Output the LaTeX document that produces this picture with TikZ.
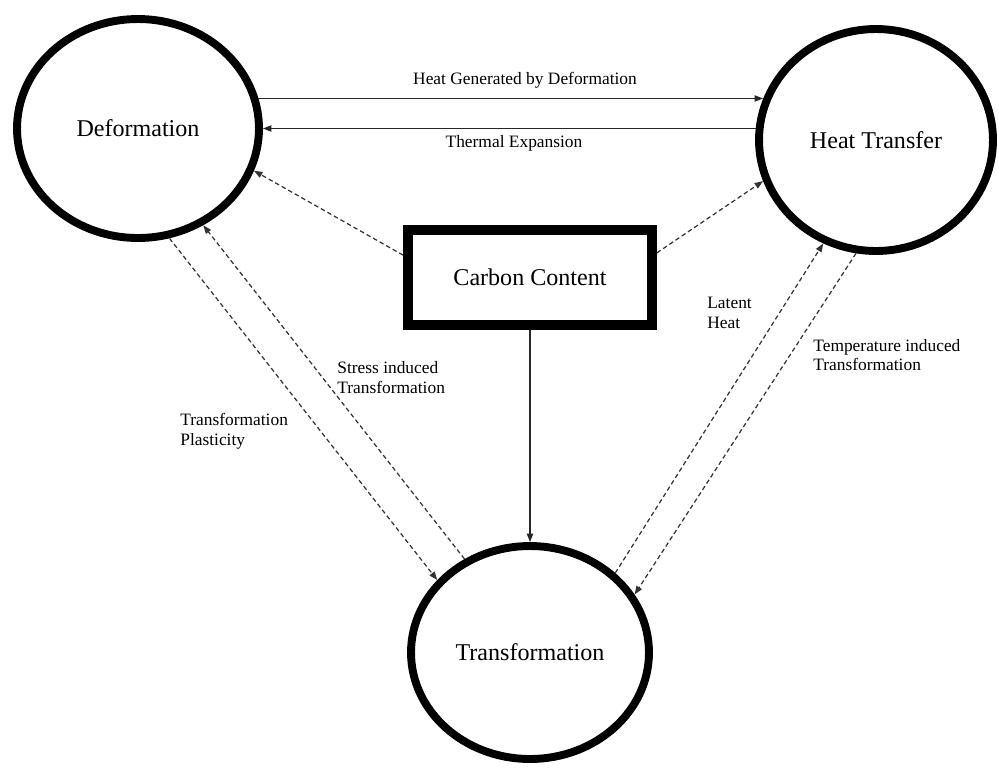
\documentclass[tikz,border=0pt]{standalone}
\usepackage{fontspec}
\setmainfont{Liberation Serif}
\usetikzlibrary{shapes.geometric, arrows.meta}
\tikzset{
  >={Triangle[length=1.7mm, width=1.25mm]},
  field/.style={
    ellipse, draw, line width=4.5pt, inner sep=0pt,
    font=\fontsize{13.7}{16}\selectfont
  },
  factor/.style={
    rectangle, draw, line width=5.6pt, inner sep=0pt,
    minimum width=4.88cm, minimum height=1.9cm,
    font=\fontsize{13.7}{16}\selectfont
  },
  couple/.style={->, line width=0.8pt, black!85},
  weak/.style={->, line width=0.7pt, black!80, dash pattern=on 0.9mm off 0.6mm},
  linklabel/.style={font=\fontsize{9.9}{11.3}\selectfont, inner sep=0pt, align=left}
}

\begin{document}
\begin{tikzpicture}[x=0.02cm, y=-0.02cm]

% frame of the page (pixel grid, y downwards)
\useasboundingbox (0,0) rectangle (998,769);

% the three coupled fields and the carbon content
\node[field, minimum width=4.84cm, minimum height=4.38cm] (def) at (138,128.5) {Deformation};
\node[field, minimum width=4.68cm, minimum height=4.44cm] (ht)  at (876,140)   {Heat Transfer};
\node[field, minimum width=4.76cm, minimum height=4.26cm] (tr)  at (530,652.5) {Transformation};
\node[factor] (cc) at (530,277.5) {Carbon Content};

% deformation <-> heat transfer
\draw[couple] (def.14) -- (def.14 -| ht.160);
\node[linklabel] (lblheat) at (525,80) {Heat Generated by Deformation};
\draw[couple] (def.east -| ht.174) -- (def.east);
\node[linklabel] (lblexp) at (514,143) {Thermal Expansion};

% carbon content acts on all three
\draw[weak] (cc.170) -- (def.340);
\draw[weak] (cc.11) -- (ht.200);
\draw[couple] (cc.south) -- (tr.north);

% deformation <-> transformation
\draw[weak] (def.286) -- (tr.142);
\node[linklabel, anchor=west] (lblplast) at (180,431) {Transformation\\Plasticity};
\draw[weak] (tr.125) -- (def.304);
\node[linklabel, anchor=west] (lblstress) at (337,377.5) {Stress induced\\Transformation};

% transformation <-> heat transfer
\draw[weak] (tr.43) -- (ht.243);
\node[linklabel, anchor=west] (lbllatent) at (707,313) {Latent\\Heat};
\draw[weak] (ht.260) -- (tr.29);
\node[linklabel, anchor=west] (lbltemp) at (813,355) {Temperature induced\\Transformation};

\end{tikzpicture}
\end{document}
